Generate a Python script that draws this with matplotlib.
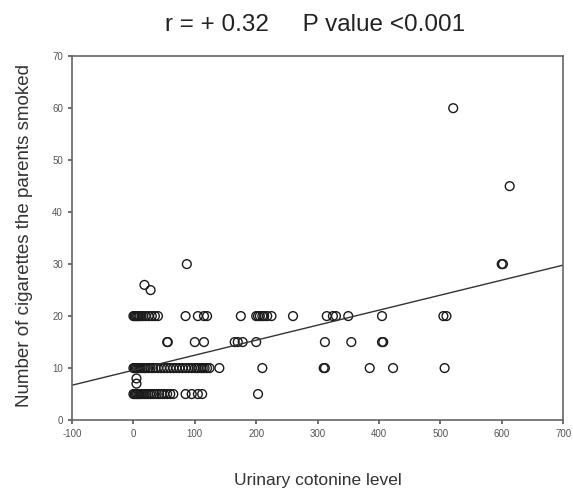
import numpy as np
import matplotlib
matplotlib.use("Agg")
from matplotlib import pyplot as plt

# values (cotinine level, cigarettes smoked)
row20_x = [0, 2, 4, 6, 8, 10, 13, 16, 20, 25, 30, 35, 40, 85, 105, 115, 120,
           175, 200, 203, 206, 210, 213, 218, 225, 260, 315, 325, 330, 350,
           405, 505, 510]
row15_x = [55, 56, 100, 115, 165, 170, 178, 200, 312, 355, 405, 407]
row10_x = [0, 2, 4, 6, 8, 10, 12, 15, 18, 20, 24, 28, 32, 36, 40, 45, 50, 55,
           60, 65, 70, 75, 80, 85, 90, 95, 100, 103, 106, 110, 113, 116, 120,
           124, 140, 210, 310, 312, 385, 423, 507]
row5_x = [0, 2, 4, 6, 8, 10, 12, 15, 18, 21, 24, 27, 30, 34, 38, 42, 46, 50,
          55, 60, 65, 85, 95, 105, 112, 203]
other_x = [5, 5, 18, 28, 87, 521, 613, 602, 600]
other_y = [8, 7, 26, 25, 30, 60, 45, 30, 30]

fit_x = [-100, 700]
fit_y = [6.7, 29.8]

xs = row20_x + row15_x + row10_x + row5_x + other_x
ys = ([20] * len(row20_x) + [15] * len(row15_x) + [10] * len(row10_x)
      + [5] * len(row5_x) + other_y)

plt.rcParams['font.family'] = ['Liberation Sans', 'DejaVu Sans']
plt.rcParams['axes.unicode_minus'] = False

fig = plt.figure(figsize=(5.73, 4.93), dpi=100)
ax = fig.add_axes([0.1257, 0.148, 0.857, 0.738])

ax.scatter(xs, ys, s=40, facecolors='none', edgecolors='#1a1a1a', linewidths=1.0)
ax.plot(fit_x, fit_y, color='#333333', lw=1.0)

ax.set_xlim(-100, 700)
ax.set_ylim(0, 70)
ax.set_xticks(np.arange(-100, 701, 100))
ax.set_yticks(np.arange(0, 71, 10))
ax.tick_params(labelsize=7, colors='#555555', length=3, width=1.2)
for s in ax.spines.values():
    s.set_color('#666666')
    s.set_linewidth(1.2)

ax.set_xlabel('Urinary cotonine level', fontsize=12.5, color='#333333')
ax.xaxis.set_label_coords(0.5, -0.146)
ax.set_ylabel('Number of cigarettes the parents smoked', fontsize=13.5,
              color='#333333')
ax.yaxis.set_label_coords(-0.079, 0.508)
fig.text(0.55, 0.95, 'r = + 0.32     P value <0.001', ha='center', va='center',
         fontsize=17.5, color='#222222')

fig.savefig('out.png', dpi=100)
